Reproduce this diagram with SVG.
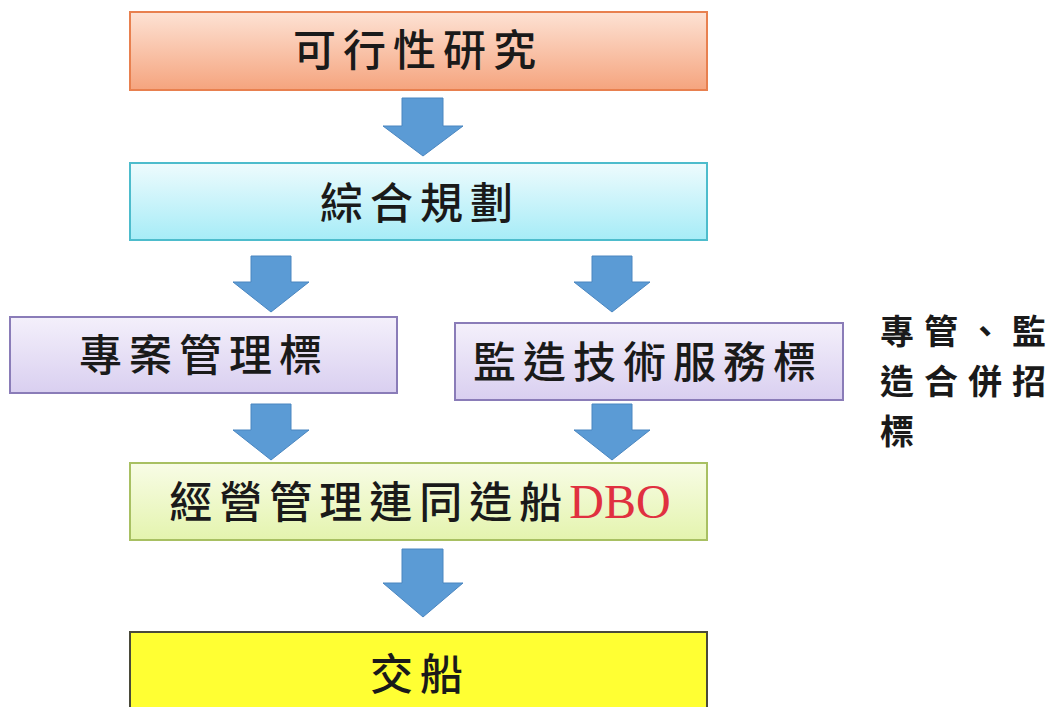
<svg xmlns="http://www.w3.org/2000/svg" width="1064" height="707" viewBox="0 0 1064 707">
<defs>
<linearGradient id="gOrange" x1="0" y1="0" x2="0" y2="1"><stop offset="0" stop-color="#fde2d4"/><stop offset="1" stop-color="#f5a47e"/></linearGradient>
<linearGradient id="gCyan" x1="0" y1="0" x2="0" y2="1"><stop offset="0" stop-color="#eefbfd"/><stop offset="1" stop-color="#a6ecf7"/></linearGradient>
<linearGradient id="gLav" x1="0" y1="0" x2="0" y2="1"><stop offset="0" stop-color="#f4f0fb"/><stop offset="1" stop-color="#d9cff0"/></linearGradient>
<linearGradient id="gGreen" x1="0" y1="0" x2="0" y2="1"><stop offset="0" stop-color="#f8fce6"/><stop offset="1" stop-color="#e4f4ae"/></linearGradient>
<path id="arrowBig" d="M-21,0 H20 V28 H40 L0,58 L-40,28 H-21 Z"/>
<path id="arrowLow" d="M-21,0 H20 V34 H40 L0,68 L-40,34 H-21 Z"/>
<path id="arrowSm" d="M-20,0 H20 V26 H38 L0,56 L-38,26 H-20 Z"/>
</defs>
<style>
.lbl{font-family:"Noto Sans CJK TC","Noto Sans CJK SC",sans-serif;font-size:43px;font-weight:500;fill:#1a1a1a;text-anchor:middle;letter-spacing:7px}
.side{font-family:"Noto Sans CJK TC","Noto Sans CJK SC",sans-serif;font-size:34px;font-weight:700;fill:#1a1a1a;letter-spacing:10px}
.dbo{font-family:"Liberation Serif",serif;fill:#e03040;font-size:48px;letter-spacing:0}
.arr{fill:#5b9bd5;stroke:#4a86c0;stroke-width:1}
</style>
<rect width="1064" height="707" fill="#ffffff"/>
<g id="connectors">
<use href="#arrowBig" class="arr" x="423" y="98"/>
<use href="#arrowSm" class="arr" x="271" y="256"/>
<use href="#arrowSm" class="arr" x="612" y="256"/>
<use href="#arrowSm" class="arr" x="271" y="404"/>
<use href="#arrowSm" class="arr" x="612" y="404"/>
<use href="#arrowLow" class="arr" x="423" y="549"/>
</g>
<g id="n1">
<rect x="130" y="12" width="577" height="78" fill="url(#gOrange)" stroke="#e8804f" stroke-width="2"/>
<text class="lbl" x="418" y="66">可行性研究</text>
</g>
<g id="n2">
<rect x="130" y="163" width="577" height="77" fill="url(#gCyan)" stroke="#4dbccc" stroke-width="2"/>
<text class="lbl" x="420" y="219">綜合規劃</text>
</g>
<g id="n3">
<rect x="10" y="317" width="387" height="76" fill="url(#gLav)" stroke="#8a7cb8" stroke-width="2"/>
<text class="lbl" x="204" y="371">專案管理標</text>
</g>
<g id="n4">
<rect x="455" y="323" width="388" height="77" fill="url(#gLav)" stroke="#8a7cb8" stroke-width="2"/>
<text class="lbl" x="648" y="378">監造技術服務標</text>
</g>
<g id="n5">
<rect x="130" y="463" width="577" height="77" fill="url(#gGreen)" stroke="#a8c062" stroke-width="2"/>
<text class="lbl" x="420" y="518">經營管理連同造船<tspan class="dbo">DBO</tspan></text>
</g>
<g id="n6">
<rect x="130" y="632" width="577" height="90" fill="#ffff33" stroke="#4a4a3a" stroke-width="2"/>
<text class="lbl" x="420" y="690">交船</text>
</g>
<g id="note">
<text class="side" x="880" y="344">專管、監</text>
<text class="side" x="880" y="394">造合併招</text>
<text class="side" x="880" y="444">標</text>
</g>
</svg>
